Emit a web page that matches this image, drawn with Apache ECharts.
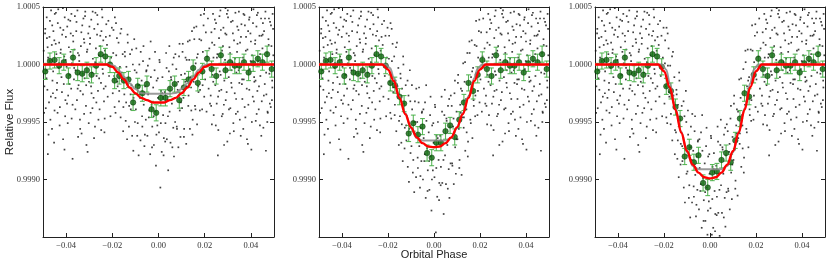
<!DOCTYPE html>
<html><head><meta charset="utf-8">
<script src="https://cdn.jsdelivr.net/npm/echarts@6/dist/echarts.min.js"></script>
<style>html,body{margin:0;padding:0;background:#fff}#c{width:831px;height:264px}</style>
</head><body><div id="c"></div>
<script>
// ---------- tick labels ----------
const phaseTicks = [-0.04, -0.02, 0, 0.02, 0.04];
const fluxTicks = [0.999, 0.9995, 1.0, 1.0005];

// ---------- unbinned points outside transit (same in all three panels) ----------
const outDots = [
[-0.0497,1.00012],[-0.0494,0.99981],[-0.0490,1.00031],[-0.0488,0.99962],[-0.0484,1.00041],[-0.0481,0.99978],[-0.0478,1.00006],[-0.0474,0.99967],
[-0.0472,1.00024],[-0.0468,0.99952],[-0.0465,1.00047],[-0.0462,1.00017],[-0.0459,0.99986],[-0.0455,1.00029],[-0.0452,0.99932],[-0.0449,1.00044],
[-0.0446,0.99971],[-0.0442,1.00009],[-0.0440,0.99978],[-0.0436,1.00036],[-0.0433,0.99997],[-0.0430,1.00019],[-0.0427,0.99963],[-0.0423,1.00013],
[-0.0420,0.99989],[-0.0417,1.00026],[-0.0414,1.00049],[-0.0410,0.99983],[-0.0408,1.00007],[-0.0404,0.99955],[-0.0401,1.00024],[-0.0398,0.99998],
[-0.0395,1.00033],[-0.0391,0.99973],[-0.0388,1.00015],[-0.0385,0.99991],[-0.0382,1.00038],[-0.0378,0.99979],[-0.0375,1.00001],[-0.0372,0.99965],
[-0.0369,1.00020],[-0.0366,0.99987],[-0.0362,1.00042],[-0.0359,0.99995],[-0.0356,1.00029],[-0.0353,0.99969],[-0.0349,1.00010],[-0.0346,0.99982],
[-0.0343,1.00003],[-0.0340,0.99952],[-0.0336,1.00016],[-0.0333,0.99940],[-0.0330,1.00034],[-0.0327,0.99974],[-0.0323,1.00022],[-0.0320,0.99988],
[-0.0317,1.00046],[-0.0314,0.99964],[-0.0310,1.00011],[-0.0307,0.99924],[-0.0304,1.00027],[-0.0301,0.99985],[-0.0297,1.00018],[-0.0294,0.99958],
[-0.0291,1.00039],[-0.0288,0.99993],[-0.0284,1.00005],[-0.0281,0.99971],[-0.0278,1.00031],[-0.0275,0.99946],[-0.0271,1.00014],[-0.0268,0.99990],
[-0.0265,1.00043],[-0.0262,0.99977],[-0.0258,1.00008],[-0.0255,0.99961],[-0.0252,1.00025],[-0.0249,0.99984],[-0.0245,1.00048],[-0.0242,0.99996],
[-0.0239,1.00021],[-0.0236,0.99968],[-0.0232,1.00012],[-0.0229,0.99981],[-0.0226,1.00035],
[-0.0486,0.99995],[-0.0479,0.99922],[-0.0470,1.00038],[-0.0461,0.99944],[-0.0451,1.00021],[-0.0444,1.00045],[-0.0437,0.99958],[-0.0425,1.00032],
[-0.0413,0.99935],[-0.0406,1.00041],[-0.0393,0.99949],[-0.0380,1.00027],[-0.0372,0.99918],[-0.0364,1.00013],[-0.0351,1.00047],[-0.0338,0.99977],
[-0.0325,1.00040],[-0.0312,0.99930],[-0.0299,1.00033],[-0.0286,0.99962],[-0.0273,1.00045],[-0.0260,0.99952],[-0.0247,1.00029],[-0.0234,0.99941],
[-0.0483,1.00023],[-0.0457,0.99975],[-0.0431,1.00001],[-0.0403,0.99969],[-0.0377,1.00044],[-0.0348,0.99937],[-0.0321,1.00019],[-0.0292,0.99981],
[-0.0266,1.00026],[-0.0240,0.99992],
[-0.0495,0.99958],[-0.0491,1.00027],[-0.0485,0.99988],[-0.0480,1.00015],[-0.0476,0.99939],[-0.0471,1.00003],[-0.0466,0.99972],[-0.0460,1.00034],
[-0.0456,0.99994],[-0.0450,0.99960],[-0.0445,1.00018],[-0.0439,0.99984],[-0.0434,1.00048],[-0.0428,0.99947],[-0.0424,1.00010],[-0.0418,0.99976],
[-0.0412,1.00030],[-0.0407,0.99926],[-0.0402,1.00004],[-0.0396,0.99966],[-0.0390,1.00039],[-0.0386,0.99983],[-0.0381,1.00011],[-0.0376,0.99953],
[-0.0370,1.00025],[-0.0365,0.99997],[-0.0360,0.99961],[-0.0355,1.00037],[-0.0350,0.99979],[-0.0344,1.00008],[-0.0339,0.99944],[-0.0334,1.00028],
[-0.0328,0.99992],[-0.0322,0.99957],[-0.0318,1.00042],[-0.0313,0.99982],[-0.0308,1.00013],[-0.0302,0.99949],[-0.0296,1.00023],[-0.0290,0.99975],
[-0.0285,1.00046],[-0.0279,0.99936],[-0.0274,1.00002],[-0.0269,0.99967],[-0.0263,1.00035],[-0.0257,0.99988],[-0.0253,1.00016],[-0.0248,0.99943],
[-0.0243,1.00041],[-0.0237,0.99979],[-0.0233,0.99953],[-0.0228,1.00024],
[-0.0223,1.00017],[-0.0220,0.99972],[-0.0217,1.00038],[-0.0214,0.99990],[-0.0211,1.00025],[-0.0208,0.99955],[-0.0205,1.00006],[-0.0202,1.00032],
[0.0202,0.99987],[0.0205,1.00028],[0.0208,0.99959],[0.0211,1.00007],[0.0214,1.00040],[0.0217,0.99979],[0.0220,1.00014],[0.0223,0.99966],
[0.0226,0.99973],[0.0229,1.00028],[0.0233,0.99991],[0.0236,1.00044],[0.0239,0.99956],[0.0242,1.00017],[0.0246,0.99982],[0.0249,1.00036],
[0.0252,0.99966],[0.0255,1.00009],[0.0259,0.99943],[0.0262,1.00023],[0.0265,0.99994],[0.0268,1.00047],[0.0272,0.99978],[0.0275,1.00012],
[0.0278,0.99957],[0.0281,1.00032],[0.0285,0.99986],[0.0288,1.00004],[0.0291,0.99969],[0.0294,1.00026],[0.0298,0.99933],[0.0301,1.00041],
[0.0304,0.99989],[0.0307,1.00015],[0.0311,0.99962],[0.0314,1.00037],[0.0317,0.99980],[0.0320,1.00002],[0.0324,0.99949],[0.0327,1.00021],
[0.0330,0.99975],[0.0333,1.00045],[0.0337,0.99993],[0.0340,1.00011],[0.0343,0.99959],[0.0346,1.00030],[0.0350,0.99984],[0.0353,1.00019],
[0.0356,0.99938],[0.0359,1.00035],[0.0363,0.99970],[0.0366,1.00006],[0.0369,0.99987],[0.0372,1.00043],[0.0376,0.99954],[0.0379,1.00024],
[0.0382,0.99979],[0.0385,1.00013],[0.0389,0.99965],[0.0392,1.00039],[0.0395,0.99996],[0.0398,1.00027],[0.0402,0.99926],[0.0405,1.00008],
[0.0408,0.99972],[0.0411,1.00048],[0.0415,0.99985],[0.0418,1.00018],[0.0421,0.99951],[0.0424,1.00033],[0.0428,0.99977],[0.0431,1.00003],
[0.0434,0.99961],[0.0437,1.00025],[0.0441,0.99990],[0.0444,1.00040],[0.0447,0.99968],[0.0450,1.00014],[0.0454,0.99945],[0.0457,1.00029],
[0.0460,0.99983],[0.0463,1.00046],[0.0467,0.99974],[0.0470,1.00010],[0.0473,0.99958],[0.0476,1.00022],[0.0480,0.99992],[0.0483,1.00037],
[0.0486,0.99963],[0.0489,1.00016],[0.0493,0.99980],[0.0496,1.00031],
[0.0231,0.99948],[0.0244,1.00039],[0.0257,0.99921],[0.0270,1.00030],[0.0283,0.99965],[0.0296,1.00044],[0.0309,0.99940],[0.0322,1.00027],
[0.0335,0.99957],[0.0348,1.00046],[0.0361,0.99983],[0.0374,1.00034],[0.0387,0.99931],[0.0400,1.00020],[0.0413,0.99968],[0.0426,1.00043],
[0.0439,0.99947],[0.0452,1.00036],[0.0465,0.99925],[0.0478,1.00040],[0.0491,0.99969],[0.0238,1.00006],[0.0263,0.99977],[0.0290,1.00049],
[0.0316,0.99995],[0.0342,1.00018],[0.0367,0.99944],[0.0394,1.00041],[0.0420,0.99986],[0.0446,1.00025],[0.0472,0.99959],[0.0494,1.00044],
[0.0228,0.99964],[0.0232,1.00019],[0.0237,0.99985],[0.0243,1.00031],[0.0248,0.99947],[0.0253,1.00006],[0.0258,0.99972],[0.0264,1.00042],
[0.0269,0.99991],[0.0274,0.99955],[0.0279,1.00016],[0.0284,0.99930],[0.0289,1.00027],[0.0295,0.99976],[0.0300,1.00047],[0.0305,0.99961],
[0.0310,1.00010],[0.0315,0.99984],[0.0321,1.00038],[0.0326,0.99942],[0.0331,1.00005],[0.0336,0.99970],[0.0341,1.00033],[0.0347,0.99995],
[0.0352,0.99952],[0.0357,1.00024],[0.0362,0.99987],[0.0368,1.00044],[0.0373,0.99963],[0.0378,1.00012],[0.0383,0.99935],[0.0388,1.00029],
[0.0393,0.99978],[0.0399,1.00003],[0.0404,0.99950],[0.0409,1.00036],[0.0414,0.99989],[0.0419,1.00021],[0.0425,0.99957],[0.0430,1.00045],
[0.0435,0.99981],[0.0440,1.00009],[0.0445,0.99938],[0.0451,1.00026],[0.0456,0.99973],[0.0461,1.00040],[0.0466,0.99993],[0.0471,0.99950],
[0.0477,1.00017],[0.0482,0.99966],[0.0487,1.00034],[0.0492,0.99986],[0.0497,1.00008]
];

// ---------- unbinned points inside transit ----------
const transitPhase = [
-0.0198,-0.0195,-0.0192,-0.0189,-0.0186,-0.0183,-0.0180,-0.0177,
-0.0173,-0.0170,-0.0167,-0.0164,-0.0161,-0.0158,-0.0155,-0.0152,
-0.0148,-0.0145,-0.0142,-0.0139,-0.0136,-0.0133,-0.0130,-0.0127,
-0.0123,-0.0120,-0.0117,-0.0114,-0.0111,-0.0108,-0.0105,-0.0102,
-0.0098,-0.0095,-0.0092,-0.0089,-0.0086,-0.0083,-0.0080,-0.0077,
-0.0073,-0.0070,-0.0067,-0.0064,-0.0061,-0.0058,-0.0055,-0.0052,
-0.0048,-0.0045,-0.0042,-0.0039,-0.0036,-0.0033,-0.0030,-0.0027,
-0.0023,-0.0020,-0.0017,-0.0014,-0.0011,-0.0008,-0.0005,-0.0002,
0.0002,0.0005,0.0008,0.0011,0.0014,0.0017,0.0020,0.0023,
0.0027,0.0030,0.0033,0.0036,0.0039,0.0042,0.0045,0.0048,
0.0052,0.0055,0.0058,0.0061,0.0064,0.0067,0.0070,0.0073,
0.0077,0.0080,0.0083,0.0086,0.0089,0.0092,0.0095,0.0098,
0.0102,0.0105,0.0108,0.0111,0.0114,0.0117,0.0120,0.0123,
0.0127,0.0130,0.0133,0.0136,0.0139,0.0142,0.0145,0.0148,
0.0152,0.0155,0.0158,0.0161,0.0164,0.0167,0.0170,0.0173,
0.0177,0.0180,0.0183,0.0186,0.0189,0.0192,0.0195,0.0198,
-0.0196,-0.0190,-0.0184,-0.0178,-0.0171,-0.0165,-0.0159,-0.0153,
-0.0146,-0.0140,-0.0134,-0.0128,-0.0121,-0.0115,-0.0109,-0.0103,
-0.0096,-0.0090,-0.0084,-0.0078,-0.0071,-0.0065,-0.0059,-0.0053,
-0.0046,-0.0040,-0.0034,-0.0028,-0.0021,-0.0015,-0.0009,-0.0003,
0.0004,0.0010,0.0016,0.0022,0.0029,0.0035,0.0041,0.0047,
0.0054,0.0060,0.0066,0.0072,0.0079,0.0085,0.0091,0.0097,
0.0104,0.0110,0.0116,0.0122,0.0129,0.0135,0.0141,0.0147,
0.0154,0.0160,0.0166,0.0172,0.0179,0.0185,0.0191,0.0197
];
const transitFlux1 = [
0.99975,1.00030,0.99990,1.00041,0.99958,1.00008,1.00023,0.99981,
1.00019,0.99977,0.99998,0.99954,1.00031,0.99987,1.00009,0.99963,
0.99974,1.00007,0.99951,0.99998,0.99935,1.00019,0.99985,0.99964,
1.00009,0.99961,0.99982,0.99938,1.00000,0.99971,1.00022,0.99950,
0.99961,0.99993,0.99938,0.99982,0.99921,1.00000,0.99971,1.00011,
0.99986,0.99946,1.00003,0.99965,0.99929,0.99981,0.99952,0.99995,
0.99938,0.99974,0.99954,1.00005,0.99922,0.99989,0.99965,0.99946,
0.99980,0.99930,0.99995,0.99959,0.99912,0.99986,0.99947,0.99971,
0.99941,1.00002,0.99893,0.99977,0.99924,0.99989,0.99956,0.99936,
0.99976,0.99949,1.00010,0.99935,0.99969,0.99908,0.99994,0.99959,
0.99932,0.99987,0.99966,1.00000,0.99945,0.99920,0.99982,1.00009,
0.99996,0.99944,0.99978,0.99928,1.00007,0.99960,0.99937,0.99991,
0.99962,1.00018,0.99971,0.99944,0.99992,1.00006,0.99931,0.99981,
1.00020,0.99973,1.00004,0.99944,0.99989,0.99960,1.00029,0.99952,
0.99985,1.00022,0.99964,1.00001,1.00033,0.99948,1.00009,0.99976,
1.00022,0.99978,1.00043,0.99994,0.99961,1.00011,1.00034,0.99972,
1.00010,0.99963,1.00036,0.99985,0.99968,1.00027,0.99993,0.99942,
1.00011,0.99967,1.00026,0.99946,0.99974,1.00013,0.99925,0.99995,
1.00014,0.99949,0.99982,0.99934,0.99955,1.00016,0.99939,0.99994,
0.99999,0.99960,1.00020,0.99928,0.99955,1.00011,0.99939,0.99988,
1.00004,0.99949,0.99975,0.99921,0.99933,0.99997,0.99955,1.00016,
0.99989,0.99928,1.00006,0.99950,0.99946,0.99985,1.00018,0.99967,
1.00011,0.99937,0.99985,1.00004,0.99964,1.00021,0.99980,0.99939,
1.00032,0.99961,1.00006,0.99981,0.99960,1.00021,0.99982,1.00044
];
const transitFlux2 = [
0.99970,1.00025,0.99985,1.00036,0.99953,1.00003,1.00018,0.99976,
1.00007,0.99965,0.99986,0.99942,1.00019,0.99975,0.99997,0.99951,
0.99955,0.99988,0.99932,0.99979,0.99916,1.00000,0.99966,0.99945,
0.99982,0.99934,0.99955,0.99911,0.99973,0.99944,0.99995,0.99923,
0.99929,0.99961,0.99906,0.99950,0.99889,0.99968,0.99939,0.99979,
0.99950,0.99910,0.99967,0.99929,0.99893,0.99945,0.99916,0.99959,
0.99900,0.99936,0.99916,0.99967,0.99884,0.99951,0.99927,0.99908,
0.99941,0.99891,0.99956,0.99920,0.99873,0.99947,0.99908,0.99932,
0.99902,0.99963,0.99854,0.99938,0.99885,0.99950,0.99917,0.99897,
0.99938,0.99911,0.99972,0.99897,0.99931,0.99870,0.99956,0.99921,
0.99896,0.99951,0.99930,0.99964,0.99909,0.99884,0.99946,0.99973,
0.99964,0.99912,0.99946,0.99896,0.99975,0.99928,0.99905,0.99959,
0.99935,0.99991,0.99944,0.99917,0.99965,0.99979,0.99904,0.99954,
1.00001,0.99954,0.99985,0.99925,0.99970,0.99941,1.00010,0.99933,
0.99973,1.00010,0.99952,0.99989,1.00021,0.99936,0.99997,0.99964,
1.00017,0.99973,1.00038,0.99989,0.99956,1.00006,1.00029,0.99967,
1.00005,0.99958,1.00031,0.99980,0.99956,1.00015,0.99981,0.99930,
0.99992,0.99948,1.00007,0.99927,0.99947,0.99986,0.99898,0.99968,
0.99982,0.99917,0.99950,0.99902,0.99919,0.99980,0.99903,0.99958,
0.99961,0.99922,0.99982,0.99890,0.99916,0.99972,0.99900,0.99949,
0.99965,0.99910,0.99936,0.99882,0.99895,0.99959,0.99917,0.99978,
0.99953,0.99892,0.99970,0.99914,0.99914,0.99953,0.99986,0.99935,
0.99984,0.99910,0.99958,0.99977,0.99945,1.00002,0.99961,0.99920,
1.00020,0.99949,0.99994,0.99969,0.99955,1.00016,0.99977,1.00039
];
const transitFlux3 = [
0.99966,1.00021,0.99981,1.00032,0.99949,0.99999,1.00014,0.99972,
0.99999,0.99957,0.99978,0.99934,1.00011,0.99967,0.99989,0.99943,
0.99941,0.99974,0.99918,0.99965,0.99902,0.99986,0.99952,0.99931,
0.99964,0.99916,0.99937,0.99893,0.99955,0.99926,0.99977,0.99905,
0.99907,0.99939,0.99884,0.99928,0.99867,0.99946,0.99917,0.99957,
0.99925,0.99885,0.99942,0.99904,0.99868,0.99920,0.99891,0.99934,
0.99874,0.99910,0.99890,0.99941,0.99858,0.99925,0.99901,0.99882,
0.99914,0.99864,0.99929,0.99893,0.99852,0.99920,0.99881,0.99905,
0.99875,0.99936,0.99852,0.99911,0.99858,0.99923,0.99890,0.99870,
0.99912,0.99885,0.99946,0.99871,0.99905,0.99851,0.99930,0.99895,
0.99871,0.99926,0.99905,0.99939,0.99884,0.99859,0.99921,0.99948,
0.99942,0.99890,0.99924,0.99874,0.99953,0.99906,0.99883,0.99937,
0.99917,0.99973,0.99926,0.99899,0.99947,0.99961,0.99886,0.99936,
0.99987,0.99940,0.99971,0.99911,0.99956,0.99927,0.99996,0.99919,
0.99965,1.00002,0.99944,0.99981,1.00013,0.99928,0.99989,0.99956,
1.00013,0.99969,1.00034,0.99985,0.99952,1.00002,1.00025,0.99963,
1.00001,0.99954,1.00027,0.99976,0.99948,1.00007,0.99973,0.99922,
0.99978,0.99934,0.99993,0.99913,0.99929,0.99968,0.99880,0.99950,
0.99960,0.99895,0.99928,0.99880,0.99894,0.99955,0.99878,0.99933,
0.99935,0.99896,0.99956,0.99864,0.99889,0.99945,0.99873,0.99922,
0.99938,0.99883,0.99909,0.99855,0.99869,0.99933,0.99891,0.99952,
0.99928,0.99867,0.99945,0.99889,0.99892,0.99931,0.99964,0.99913,
0.99966,0.99892,0.99940,0.99959,0.99931,0.99988,0.99947,0.99906,
1.00012,0.99941,0.99986,0.99961,0.99951,1.00012,0.99973,1.00035
];

// ---------- binned points (green) ----------
const binPhase = [-0.049,-0.047,-0.045,-0.043,-0.041,-0.039,-0.037,-0.035,-0.033,-0.031,
-0.029,-0.027,-0.025,-0.023,-0.021,-0.019,-0.017,-0.015,-0.013,-0.011,
-0.009,-0.007,-0.005,-0.003,-0.001,0.001,0.003,0.005,0.007,0.009,
0.011,0.013,0.015,0.017,0.019,0.021,0.023,0.025,0.027,0.029,
0.031,0.033,0.035,0.037,0.039,0.041,0.043,0.045,0.047,0.049];
const binFlux1 = [0.99994,1.00003,1.00004,0.99999,1.00002,0.99990,1.00006,0.99993,0.99992,0.99995,
0.99991,0.99999,1.00009,1.00007,1.00000,0.99986,0.99990,0.99986,0.99987,0.99967,
0.99981,0.99975,0.99983,0.99961,0.99958,0.99971,0.99971,0.99979,0.99983,0.99969,
0.99980,0.99987,0.99997,0.99984,0.99994,1.00005,0.99996,0.99990,1.00008,0.99995,
1.00002,0.99999,0.99999,1.00002,0.99993,1.00001,1.00005,1.00002,1.00009,0.99996];
const binFlux2 = [0.99994,1.00003,1.00004,0.99999,1.00002,0.99990,1.00006,0.99993,0.99992,0.99995,
0.99991,0.99999,1.00009,1.00007,0.99999,0.99984,0.99982,0.99972,0.99966,0.99940,
0.99949,0.99939,0.99946,0.99923,0.99919,0.99932,0.99932,0.99942,0.99947,0.99937,
0.99952,0.99967,0.99984,0.99977,0.99991,1.00004,0.99996,0.99990,1.00008,0.99995,
1.00002,0.99999,0.99999,1.00002,0.99993,1.00001,1.00005,1.00002,1.00009,0.99996];
const binFlux3 = [0.99994,1.00003,1.00004,0.99999,1.00002,0.99990,1.00006,0.99993,0.99992,0.99995,
0.99991,0.99999,1.00009,1.00007,0.99998,0.99981,0.99977,0.99963,0.99953,0.99920,
0.99928,0.99915,0.99921,0.99897,0.99893,0.99906,0.99907,0.99917,0.99923,0.99915,
0.99934,0.99953,0.99975,0.99972,0.99991,1.00005,0.99996,0.99990,1.00008,0.99995,
1.00002,0.99999,0.99999,1.00002,0.99993,1.00001,1.00005,1.00002,1.00009,0.99996];
const binErr = 0.00007;

// ---------- fitted model (red) ----------
const modelPhase = [-0.05,-0.0225,-0.02,-0.0175,-0.015,-0.0125,-0.01,-0.0075,-0.005,-0.0025,0,
0.0025,0.005,0.0075,0.01,0.0125,0.015,0.0175,0.02,0.0225,0.05];
const modelFlux1 = [1,1,0.99998,0.99993,0.99987,0.99980,0.99975,0.99971,0.99969,0.99967,0.99967,
0.99967,0.99969,0.99971,0.99975,0.99980,0.99987,0.99993,0.99998,1,1];
const modelFlux2 = [1,1,0.999957,0.999856,0.99971,0.999568,0.999453,0.999366,0.999316,0.999287,0.99928,
0.999287,0.999316,0.999366,0.999453,0.999568,0.99971,0.999856,0.999957,1,1];
const modelFlux3 = [1,1,0.999941,0.999802,0.999604,0.999406,0.999248,0.999129,0.99906,0.99902,0.99901,
0.99902,0.99906,0.999129,0.999248,0.999406,0.999604,0.999802,0.999941,1,1];

// ---------- reference model (grey) ----------
const grayPhase = [-0.05,-0.021,-0.019,-0.0175,-0.015,-0.0125,-0.01,-0.0075,-0.005,0,
0.005,0.0075,0.01,0.0125,0.015,0.0175,0.019,0.021,0.05];
const grayFlux1 = [1,1,0.999987,0.999954,0.999893,0.999837,0.999786,0.999753,0.999745,0.999745,
0.999745,0.999753,0.999786,0.999837,0.999893,0.999954,0.999987,1,1];
const grayFlux2 = [1,1,0.999967,0.999881,0.999723,0.999578,0.999446,0.99936,0.99934,0.99934,
0.99934,0.99936,0.999446,0.999578,0.999723,0.999881,0.999967,1,1];
const grayFlux3 = [1,1,0.999955,0.999836,0.999618,0.999418,0.999236,0.999117,0.99909,0.99909,
0.99909,0.999117,0.999236,0.999418,0.999618,0.999836,0.999955,1,1];

// ---------- build chart ----------
const panels = [
  {left:43, width:231, tf:transitFlux1, bf:binFlux1, mf:modelFlux1, gf:grayFlux1},
  {left:319, width:230, tf:transitFlux2, bf:binFlux2, mf:modelFlux2, gf:grayFlux2},
  {left:595, width:230, tf:transitFlux3, bf:binFlux3, mf:modelFlux3, gf:grayFlux3}
];
const TOP = 7, H = 230;
const lineCol = '#222';
const lblFont = {fontFamily:'Liberation Serif', fontSize:8.5, color:'#333'};
const fmtMinus = s => s.replace('-', '\u2212');

const grid = [], xAxis = [], yAxis = [], series = [];
panels.forEach((p, i) => {
  grid.push({left:p.left, top:TOP, width:p.width, height:H, show:false});
  const tickIn = {show:true, inside:true, length:4, lineStyle:{color:lineCol, width:1}};
  xAxis.push({type:'value', gridIndex:i, position:'bottom', min:-0.05, max:0.05,
    axisLine:{show:true, onZero:false, lineStyle:{color:lineCol, width:1}},
    axisTick:Object.assign({customValues:phaseTicks}, tickIn),
    axisLabel:Object.assign({customValues:phaseTicks, margin:4,
      formatter:v => fmtMinus(Number(v).toFixed(2))}, lblFont),
    splitLine:{show:false}});
  xAxis.push({type:'value', gridIndex:i, position:'top', min:-0.05, max:0.05,
    axisLine:{show:true, onZero:false, lineStyle:{color:lineCol, width:1}},
    axisTick:Object.assign({customValues:phaseTicks}, tickIn),
    axisLabel:{show:false}, splitLine:{show:false}});
  yAxis.push({type:'value', gridIndex:i, position:'left', min:0.9985, max:1.0005,
    axisLine:{show:true, onZero:false, lineStyle:{color:lineCol, width:1}},
    axisTick:Object.assign({customValues:fluxTicks}, tickIn),
    axisLabel:Object.assign({customValues:fluxTicks, margin:3,
      formatter:v => Number(v).toFixed(4)}, lblFont),
    splitLine:{show:false}});
  yAxis.push({type:'value', gridIndex:i, position:'right', min:0.9985, max:1.0005,
    axisLine:{show:true, onZero:false, lineStyle:{color:lineCol, width:1}},
    axisTick:Object.assign({customValues:fluxTicks}, tickIn),
    axisLabel:{show:false}, splitLine:{show:false}});
  const xi = 2*i, yi = 2*i;
  const dots = outDots.concat(transitPhase.map((x, k) => [x, p.tf[k]]));
  series.push({type:'scatter', xAxisIndex:xi, yAxisIndex:yi, data:dots, symbol:'rect',
    symbolSize:1.7, itemStyle:{color:'#111'}, silent:true, z:1});
  series.push({type:'custom', xAxisIndex:xi, yAxisIndex:yi, z:3, clip:true,
    data:binPhase.map((x, k) => [x, p.bf[k], binErr]),
    renderItem:(params, api) => {
      const x = api.value(0), y = api.value(1), e = api.value(2);
      const t = api.coord([x, y + e]), b = api.coord([x, y - e]);
      const cw = 2.4, st = {stroke:'#49b049', lineWidth:1.1, opacity:0.9};
      return {type:'group', children:[
        {type:'line', shape:{x1:t[0], y1:t[1], x2:b[0], y2:b[1]}, style:st},
        {type:'line', shape:{x1:t[0]-cw, y1:t[1], x2:t[0]+cw, y2:t[1]}, style:st},
        {type:'line', shape:{x1:b[0]-cw, y1:b[1], x2:b[0]+cw, y2:b[1]}, style:st}
      ]};
    }});
  series.push({type:'scatter', xAxisIndex:xi, yAxisIndex:yi, z:4, symbol:'circle', symbolSize:5.5,
    data:binPhase.map((x, k) => [x, p.bf[k]]),
    itemStyle:{color:'#0b640b', borderColor:'#053205', borderWidth:0.6}});
  series.push({type:'line', xAxisIndex:xi, yAxisIndex:yi, z:5, showSymbol:false, smooth:0.35,
    smoothMonotone:'x', data:grayPhase.map((x, k) => [x, p.gf[k]]),
    lineStyle:{color:'#8a8a8a', width:2, opacity:0.85}});
  series.push({type:'line', xAxisIndex:xi, yAxisIndex:yi, z:6, showSymbol:false, smooth:0.35,
    smoothMonotone:'x', data:modelPhase.map((x, k) => [x, p.mf[k]]),
    lineStyle:{color:'#ff0000', width:2.4}});
});

const chart = echarts.init(document.getElementById('c'), null, {renderer:'canvas'});
chart.setOption({
  animation:false,
  backgroundColor:'#fff',
  grid, xAxis, yAxis, series,
  graphic:[
    {type:'text', x:10, y:122, rotation:Math.PI/2,
      style:{text:'Relative Flux', font:'11.5px "Liberation Sans"', fill:'#222',
        textAlign:'center', textVerticalAlign:'middle'}},
    {type:'text', x:434, y:255,
      style:{text:'Orbital Phase', font:'11px "Liberation Sans"', fill:'#222',
        textAlign:'center', textVerticalAlign:'middle'}}
  ]
});
</script>
</body></html>
